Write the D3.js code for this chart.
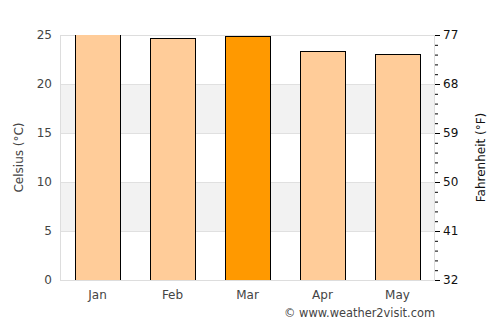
<!DOCTYPE html>
<html>
<head>
<meta charset="utf-8">
<script src="https://cdn.jsdelivr.net/npm/d3@7"></script>
<style>
  body { margin: 0; background: #fff; }
  text { font-family: "DejaVu Sans", sans-serif; }
</style>
</head>
<body>
<svg width="500" height="325"></svg>
<script>
const months = ['Jan', 'Feb', 'Mar', 'Apr', 'May']
const celsius = [25.2, 24.7, 24.9, 23.4, 23.1]
const highlight = 'Mar'
const cTicks = [0, 5, 10, 15, 20, 25]
const fTicks = [32, 41, 50, 59, 68, 77]
const credit = '© www.weather2visit.com'

const svg = d3.select('svg')
const plotL = 60, plotR = 435, plotT = 35, plotB = 280

const x = d3.scaleBand().domain(months).range([plotL, plotR]).paddingInner(0.4).paddingOuter(0.2)
const y = d3.scaleLinear().domain([0, 25]).range([plotB, plotT])
const yF = d3.scaleLinear().domain([32, 77]).range([plotB, plotT])

// alternating bands
const bands = [[5, 10], [15, 20]]
svg.selectAll('rect.band').data(bands).enter().append('rect')
  .attr('x', plotL).attr('width', plotR - plotL)
  .attr('y', d => y(d[1])).attr('height', d => y(d[0]) - y(d[1]))
  .attr('fill', '#f2f2f2')

svg.selectAll('line.grid').data(cTicks).enter().append('line')
  .attr('x1', plotL).attr('x2', plotR)
  .attr('y1', d => y(d) + 0.5).attr('y2', d => y(d) + 0.5)
  .attr('stroke', '#e0e0e0')

svg.append('rect').attr('x', plotL + 0.5).attr('y', plotT + 0.5)
  .attr('width', plotR - plotL - 1).attr('height', plotB - plotT)
  .attr('fill', 'none').attr('stroke', '#dddddd')

svg.append('clipPath').attr('id', 'clip').append('rect')
  .attr('x', plotL).attr('y', plotT).attr('width', plotR - plotL).attr('height', plotB - plotT)

svg.append('g').attr('clip-path', 'url(#clip)')
  .selectAll('rect.bar').data(months).enter().append('rect')
  .attr('x', d => Math.round(x(d)) + 0.5)
  .attr('width', Math.round(x.bandwidth()))
  .attr('y', (d, i) => Math.round(y(celsius[i])) + 0.5)
  .attr('height', (d, i) => plotB - Math.round(y(celsius[i])))
  .attr('fill', d => d === highlight ? '#ff9900' : '#ffcc99')
  .attr('stroke', '#000').attr('stroke-width', 1)

// left labels
svg.selectAll('text.cl').data(cTicks).enter().append('text')
  .attr('x', 52).attr('y', d => y(d) + 4)
  .attr('text-anchor', 'end').attr('font-size', 12).attr('fill', '#444')
  .text(d => d)

// right minor/major ticks
const minor = d3.range(0, 26)
svg.selectAll('line.rt').data(minor).enter().append('line')
  .attr('x1', plotR).attr('x2', d => d % 5 === 0 ? plotR + 5 : plotR + 3)
  .attr('y1', d => y(d) + 0.5).attr('y2', d => y(d) + 0.5)
  .attr('stroke', '#000')

svg.selectAll('text.fl').data(fTicks).enter().append('text')
  .attr('x', 443).attr('y', d => yF(d) + 4)
  .attr('font-size', 12).attr('fill', '#111')
  .text(d => d)

svg.selectAll('text.xl').data(months).enter().append('text')
  .attr('x', d => x(d) + x.bandwidth() / 2).attr('y', 299)
  .attr('text-anchor', 'middle').attr('font-size', 12).attr('fill', '#444')
  .text(d => d)

svg.append('text').attr('transform', `translate(23,${(plotT + plotB) / 2}) rotate(-90)`)
  .attr('text-anchor', 'middle').attr('font-size', 12).attr('fill', '#444')
  .text('Celsius (°C)')

svg.append('text').attr('transform', `translate(485,${(plotT + plotB) / 2}) rotate(-90)`)
  .attr('text-anchor', 'middle').attr('font-size', 12).attr('fill', '#111')
  .text('Fahrenheit (°F)')

svg.append('text').attr('x', 435).attr('y', 317)
  .attr('text-anchor', 'end').attr('font-size', 11.4).attr('fill', '#444')
  .text(credit)
</script>
</body>
</html>
